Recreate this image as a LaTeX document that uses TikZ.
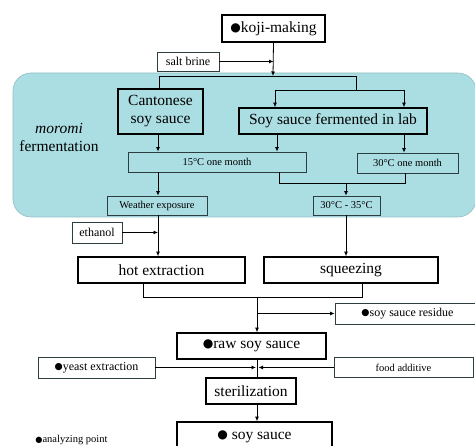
\documentclass[tikz,border=0pt]{standalone}
\usepackage{fontspec}
\usetikzlibrary{arrows.meta}
\setmainfont{Liberation Serif}
\newfontfamily\dotfont{DejaVu Sans}
\newcommand{\apoint}{\raisebox{0.04em}{\scalebox{0.78}{\dotfont ●}}}
\definecolor{moromicyan}{RGB}{171,222,227}
\definecolor{boxline}{RGB}{45,62,64}

\begin{document}
\begin{tikzpicture}[> = {Latex[length = 4.5pt, width = 4pt]}, x = 1pt, y = -1pt, line width = 0.8pt,
	bigbox/.style = {draw, line width = 1.6pt, inner sep = 0pt, font = \fontsize{15.5}{18}\selectfont},
	smallbox/.style = {draw = boxline, line width = 0.8pt, inner sep = 0pt, font = \fontsize{10.5}{12}\selectfont},
	midbox/.style = {smallbox, font = \fontsize{12}{14}\selectfont}]

	\useasboundingbox (0, 0) rectangle (475, 446);
	\fill [white] (0, 0) rectangle (475, 446);

	\draw [fill = moromicyan, draw = moromicyan!85!black, line width = 0.6pt, rounded corners = 18pt] (13, 73) rectangle (476, 217);
	\node [align = center, font = \fontsize{15.5}{18}\selectfont] (moromi) at (59, 137) {\textit{moromi}\\fermentation};

	\node [bigbox, fill = white, minimum width = 103pt, minimum height = 27pt] (koji) at (273.5, 28.5) {\apoint koji-making};
	\node [midbox, fill = white, minimum width = 62pt, minimum height = 19pt] (salt) at (188, 61.5) {salt brine};
	\coordinate (split) at (273, 76);

	\node [bigbox, align = center, minimum width = 85pt, minimum height = 45pt] (canton) at (160.5, 111.5) {Cantonese\\soy sauce};
	\node [bigbox, minimum width = 188pt, minimum height = 26pt] (lab) at (333, 121) {Soy sauce fermented in lab};

	\node [smallbox, minimum width = 178pt, minimum height = 20pt] (month15) at (217, 162) {15°C one month};
	\node [smallbox, minimum width = 101pt, minimum height = 20pt] (month30) at (407.5, 163) {30°C one month};
	\node [smallbox, minimum width = 100pt, minimum height = 19pt] (weather) at (157, 205.5) {Weather exposure};
	\node [smallbox, minimum width = 67pt, minimum height = 19pt] (warm) at (346.5, 205.5) {30°C - 35°C};

	\node [midbox, fill = white, minimum width = 50pt, minimum height = 21pt] (ethanol) at (97, 232.5) {ethanol};
	\node [bigbox, fill = white, minimum width = 167pt, minimum height = 26pt] (hot) at (161.5, 270) {hot extraction};
	\node [bigbox, fill = white, minimum width = 174pt, minimum height = 26pt] (squeeze) at (351, 270) {squeezing};

	\node [midbox, fill = white, minimum width = 145pt, minimum height = 21pt] (residue) at (407.5, 313.5) {\apoint soy sauce residue};
	\node [bigbox, fill = white, minimum width = 149pt, minimum height = 26pt] (raw) at (251.5, 346) {\apoint raw soy sauce};
	\node [midbox, fill = white, minimum width = 117pt, minimum height = 21pt] (yeast) at (96.5, 367.5) {\apoint yeast extraction};
	\node [smallbox, fill = white, minimum width = 139pt, minimum height = 20pt] (additive) at (403.5, 367.5) {food additive};
	\node [bigbox, fill = white, minimum width = 90pt, minimum height = 26pt] (steril) at (251, 391) {sterilization};
	\node [bigbox, fill = white, minimum width = 155pt, minimum height = 30pt] (soy) at (254.5, 437) {\apoint\ soy sauce};

	\node [anchor = west, inner sep = 0pt, font = \fontsize{10.5}{12}\selectfont] (legend) at (35, 440) {\apoint analyzing point};

	\draw [->] (koji.south) -- (split);
	\draw [->] (salt.east) -- (salt.east -| koji.south);
	\draw (split) -- (159, 76) -- (canton.north -| 159, 0);
	\draw (split) -- (356, 76) -- (356, 90);
	\draw (275, 90) -- (404, 90);
	\draw [->] (275, 90) -- (lab.north -| 275, 0);
	\draw [->] (404, 90) -- (lab.north -| 404, 0);

	\draw [->] (canton.south -| 158, 0) -- (month15.north -| 158, 0);
	\draw [->] (lab.south -| 277, 0) -- (month15.north -| 277, 0);
	\draw [->] (lab.south -| 404, 0) -- (month30.north -| 404, 0);
	\draw (month15.south -| 279, 0) -- (279, 183) -- (405, 183) -- (month30.south -| 405, 0);
	\draw [->] (346, 183) -- (warm.north -| 346, 0);
	\draw [->] (month15.south -| 158, 0) -- (weather.north -| 158, 0);

	\draw [->] (weather.south -| 158, 0) -- (hot.north -| 158, 0);
	\draw [->] (ethanol.east) -- (ethanol.east -| 158, 0);
	\draw [->] (warm.south -| 346, 0) -- (squeeze.north -| 346, 0);

	\draw (hot.south -| 143, 0) -- (143, 297) -- (362, 297) -- (squeeze.south -| 362, 0);
	\draw [->] (257, 297) -- (raw.north -| 257, 0);
	\draw [->] (residue.west -| 257, 0) -- (residue.west);

	\draw (raw.south -| 257, 0) -- (steril.north -| 257, 0);
	\draw [->] (yeast.east) -- (yeast.east -| 256, 0);
	\draw [->] (additive.west) -- (additive.west -| 258.5, 0);
	\draw [->] (steril.south -| 257, 0) -- (soy.north -| 257, 0);

\end{tikzpicture}
\end{document}
